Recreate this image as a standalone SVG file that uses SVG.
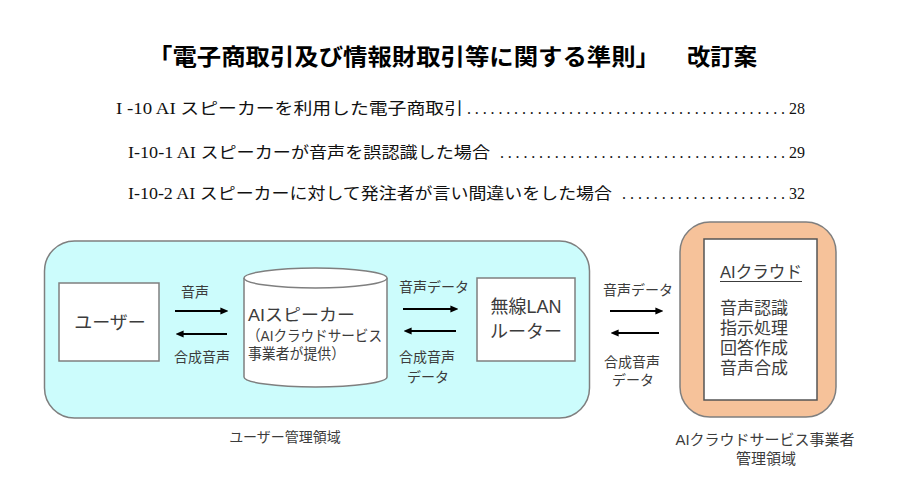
<svg xmlns="http://www.w3.org/2000/svg" width="900" height="490" viewBox="0 0 900 490">
<defs>
<marker id="ah" viewBox="0 0 10 10" refX="2" refY="5" markerWidth="4" markerHeight="4" orient="auto" markerUnits="strokeWidth">
<path d="M0,0.5 L10,5 L0,9.5 z" fill="#000"/>
</marker>
</defs>
<style>
.t{font-family:"Liberation Sans","Noto Sans CJK JP",sans-serif;fill:#3c3c3c}
.c{text-anchor:middle}
.s14{font-size:14px}
.s15{font-size:15px}
.s16{font-size:16px}
.s17{font-size:17px}
.s18{font-size:18px}
.title{font-family:"Noto Sans CJK JP",sans-serif;font-weight:bold;font-size:23px;fill:#000}
.toc{font-family:"Liberation Serif","Noto Sans CJK JP",serif;font-size:16px;fill:#111}
.box{fill:#fff;stroke:#7f7f7f;stroke-width:1.5}
.arr{stroke:#000;stroke-width:2;marker-end:url(#ah);fill:none}
</style>
<rect width="900" height="490" fill="#fff"/>

<g id="title">
<text class="title" x="148" y="65" textLength="512" lengthAdjust="spacingAndGlyphs">「電子商取引及び情報財取引等に関する準則」</text>
<text class="title" x="687" y="65" textLength="70" lengthAdjust="spacingAndGlyphs">改訂案</text>
</g>

<g id="toc">
<text class="toc" x="116" y="114" textLength="347" lengthAdjust="spacingAndGlyphs">I -10  AI スピーカーを利用した電子商取引</text>
<text class="toc" x="467" y="114" textLength="318" lengthAdjust="spacing">.........................................</text>
<text class="toc" x="805" y="114" text-anchor="end">28</text>
<text class="toc" x="128" y="158" textLength="362" lengthAdjust="spacingAndGlyphs">I-10-1 AI スピーカーが音声を誤認識した場合</text>
<text class="toc" x="500" y="158" textLength="285" lengthAdjust="spacing">.....................................</text>
<text class="toc" x="805" y="158" text-anchor="end">29</text>
<text class="toc" x="128" y="199" textLength="484" lengthAdjust="spacingAndGlyphs">I-10-2 AI スピーカーに対して発注者が言い間違いをした場合</text>
<text class="toc" x="622" y="199" textLength="163" lengthAdjust="spacing">.....................</text>
<text class="toc" x="805" y="199" text-anchor="end">32</text>
</g>

<g id="user-area">
<rect x="44.5" y="241" width="545" height="177" rx="30" fill="#ccfcfc" stroke="#7f7f7f" stroke-width="1.5"/>
<text class="t c s14" x="285" y="442">ユーザー管理領域</text>
</g>

<g id="user">
<rect class="box" x="59" y="283" width="100" height="78"/>
<text class="t c s18" x="110" y="329">ユーザー</text>
</g>

<g id="speaker">
<path class="box" d="M244,278 L244,377 A71.5,10 0 0 0 387,377 L387,278"/>
<ellipse class="box" cx="315.5" cy="278" rx="71.5" ry="10"/>
<text class="t s17" x="248" y="321" textLength="107" lengthAdjust="spacingAndGlyphs">AIスピーカー</text>
<text class="t s15" x="247" y="341" textLength="135" lengthAdjust="spacingAndGlyphs">（AIクラウドサービス</text>
<text class="t s15" x="248" y="359" textLength="97" lengthAdjust="spacingAndGlyphs">事業者が提供）</text>
</g>

<g id="router">
<rect class="box" x="477" y="278" width="98" height="83"/>
<text class="t c s18" x="526" y="313">無線LAN</text>
<text class="t c s18" x="526" y="338">ルーター</text>
</g>

<g id="cloud-area">
<rect x="680" y="222" width="156" height="195" rx="30" fill="#f6c29a" stroke="#7f7f7f" stroke-width="1.5"/>
<text class="t c s15" x="765" y="445">AIクラウドサービス事業者</text>
<text class="t c s15" x="766" y="464">管理領域</text>
</g>

<g id="cloud">
<rect x="704" y="239" width="113" height="161" fill="#fff" stroke="#555" stroke-width="1.5"/>
<text class="t s17" x="720" y="278" textLength="82" lengthAdjust="spacingAndGlyphs">AIクラウド</text>
<line x1="720" y1="281.5" x2="802" y2="281.5" stroke="#3c3c3c" stroke-width="1.2"/>
<text class="t s17" x="720" y="314" textLength="68" lengthAdjust="spacingAndGlyphs">音声認識</text>
<text class="t s17" x="720" y="334" textLength="68" lengthAdjust="spacingAndGlyphs">指示処理</text>
<text class="t s17" x="720" y="354" textLength="68" lengthAdjust="spacingAndGlyphs">回答作成</text>
<text class="t s17" x="720" y="374" textLength="68" lengthAdjust="spacingAndGlyphs">音声合成</text>
</g>

<g id="connectors">
<line class="arr" x1="175" y1="311" x2="222" y2="311"/>
<line class="arr" x1="227" y1="334" x2="182" y2="334"/>
<line class="arr" x1="403" y1="309" x2="452" y2="309"/>
<line class="arr" x1="456" y1="331" x2="410" y2="331"/>
<line class="arr" x1="610" y1="311" x2="657" y2="311"/>
<line class="arr" x1="659" y1="333" x2="617" y2="333"/>
<text class="t c s14" x="195" y="297">音声</text>
<text class="t c s14" x="202" y="362">合成音声</text>
<text class="t c s14" x="434" y="292">音声データ</text>
<text class="t c s14" x="427" y="362">合成音声</text>
<text class="t c s14" x="428" y="382">データ</text>
<text class="t c s14" x="638" y="295">音声データ</text>
<text class="t c s14" x="632" y="367">合成音声</text>
<text class="t c s14" x="633" y="385">データ</text>
</g>
</svg>
